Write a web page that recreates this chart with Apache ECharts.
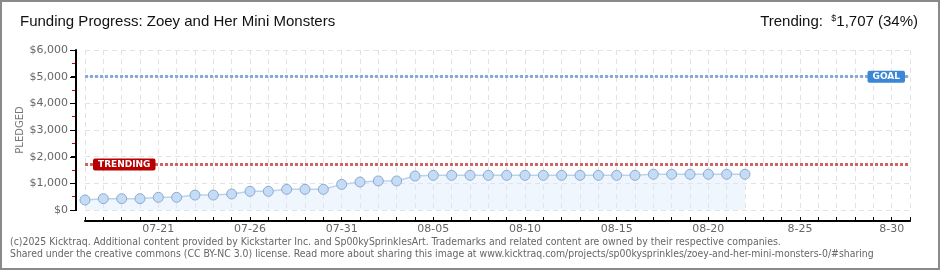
<!DOCTYPE html>
<html><head><meta charset="utf-8">
<script src="https://cdn.jsdelivr.net/npm/echarts@6/dist/echarts.min.js"></script>
<style>html,body{margin:0;padding:0;background:#fff}#c{width:940px;height:270px}</style>
</head><body><div id="c"></div>
<script>
const categories = ["07-17","07-18","07-19","07-20","07-21","07-22","07-23","07-24","07-25","07-26","07-27","07-28","07-29","07-30","07-31",
"08-01","08-02","08-03","08-04","08-05","08-06","08-07","08-08","08-09","08-10","08-11","08-12","08-13","08-14","08-15","08-16","08-17","08-18","08-19","08-20","08-21","08-22","08-23","08-24","08-25","08-26","08-27","08-28","08-29","08-30","08-31"];
const tickLabels = ["07-21","07-26","07-31","08-05","08-10","08-15","08-20","8-25","8-30"];
const pledged = [375,425,425,425,475,475,560,560,600,700,700,775,775,775,960,1050,1090,1090,1275,
1300,1300,1300,1300,1300,1300,1300,1300,1300,1300,1300,1300,
1340,1340,1340,1340,1340,1340];
const goal = 5000;
const trending = 1707;
const yTicks = [0,1000,2000,3000,4000,5000,6000];
const yMinorTicks = [500,1500,2500,3500,4500,5500];

const chart = echarts.init(document.getElementById('c'), null, {renderer:'canvas'});
const lblFont = '"DejaVu Sans", Verdana, sans-serif';
const titleFont = 'sans-serif';
const footFont = 'Tahoma,"DejaVu Sans Condensed","DejaVu Sans",sans-serif';
const yMin = yTicks[0], yMax = yTicks[yTicks.length-1];
const Y_OFFSET = 9, GRID_LEFT = 85, GRID_TOP = 50, GRID_BOTTOM = 60, H = 270;
chart.setOption({
  animation:false,
  grid:{left:GRID_LEFT,right:30,top:GRID_TOP,bottom:GRID_BOTTOM},
  xAxis:{
    type:'category', data:categories, boundaryGap:false, offset:11,
    axisLine:{onZero:false,lineStyle:{color:'#000',width:2}},
    axisTick:{show:true,interval:0,inside:true,length:4,lineStyle:{color:'#000',width:1}},
    axisLabel:{interval:0,margin:3,color:'#666',fontSize:11,fontFamily:lblFont,
      formatter:(v,i)=> (i%5===4 ? tickLabels[(i-4)/5] : '')},
    splitLine:{show:true,interval:0,lineStyle:{color:'#e2e2e2',type:[5,4]}}
  },
  yAxis:[{
    type:'value', min:yMin, max:yMax, interval:1000, offset:Y_OFFSET, position:'left',
    name:'PLEDGED', nameLocation:'middle', nameRotate:90, nameGap:51, nameMoveOverlap:false,
    nameTextStyle:{color:'#777',fontSize:10,fontFamily:lblFont},
    axisLine:{show:true,onZero:false,lineStyle:{color:'#000',width:2}},
    axisTick:{show:true,length:5,lineStyle:{color:'#000',width:1}},
    axisLabel:{margin:8,color:'#666',fontSize:11,fontFamily:lblFont,
      formatter:v=>'$'+v.toLocaleString('en-US')},
    splitLine:{show:true,lineStyle:{color:'#e2e2e2',type:[5,4]}}
  },{
    type:'value', min:yMin, max:yMax, interval:500, offset:Y_OFFSET, position:'left',
    axisLine:{show:false}, axisLabel:{show:false}, splitLine:{show:false},
    axisTick:{show:true,length:4,customValues:yMinorTicks,lineStyle:{color:'#d00',width:1}}
  }],
  series:[{
    type:'line', data:pledged, symbol:'circle', symbolSize:10, yAxisIndex:0,
    lineStyle:{color:'#b9d3ef',width:1.5},
    itemStyle:{color:'#c5dcf6',borderColor:'#8ea9cc',borderWidth:1},
    areaStyle:{color:'rgba(220,234,250,0.6)'},
    markLine:{
      silent:true, symbol:'none',
      data:[
        {yAxis:goal, lineStyle:{color:'#86abdb',width:3,type:[3,2]},
         label:{show:true,position:'insideEnd',distance:5,formatter:'GOAL',color:'#fff',fontSize:9,fontWeight:'bold',
           fontFamily:lblFont,backgroundColor:'#3b87d6',padding:[2,5,1,5],borderRadius:2}},
        {yAxis:trending, lineStyle:{color:'#d06464',width:3,type:[3,2]},
         label:{show:true,position:'insideStart',distance:8,formatter:'TRENDING',color:'#fff',fontSize:9,fontWeight:'bold',
           fontFamily:lblFont,backgroundColor:'#b80000',padding:[2,5,1,5],borderRadius:2}}
      ]
    }
  }]
});

// y-axis line and major ticks drawn explicitly (fallback to grid geometry if conversion fails)
const gTop = GRID_TOP, gBot = H - GRID_BOTTOM;
function yPix(v){
  let p = NaN;
  try { p = chart.convertToPixel({yAxisIndex:0}, v); } catch(e) {}
  if (Array.isArray(p)) p = p[1];
  if (!isFinite(p)) p = gBot - (v - yMin) / (yMax - yMin) * (gBot - gTop);
  return p;
}
let x0 = NaN;
try { x0 = chart.convertToPixel({xAxisIndex:0}, 0); } catch(e) {}
if (Array.isArray(x0)) x0 = x0[0];
if (!isFinite(x0)) x0 = GRID_LEFT;
const axX = x0 - Y_OFFSET;
const graphics = [
  {type:'rect',shape:{x:1,y:1,width:938,height:268},style:{fill:'none',stroke:'#8a8a8a',lineWidth:2},silent:true,z:100},
  {type:'text',left:20,top:14,style:{text:'Funding Progress: Zoey and Her Mini Monsters',fill:'#111',fontSize:15,fontFamily:titleFont}},
  {type:'text',right:22,top:14,style:{rich:{a:{fontSize:15,fill:'#111',fontFamily:titleFont},
    s:{fontSize:9,fill:'#111',verticalAlign:'top',padding:[0,0,6,0],fontFamily:titleFont}},
    text:'{a|Trending:  }{s|$}{a|1,707 (34%)}'}},
  {type:'text',left:10,top:237,style:{text:'(c)2025 Kicktraq. Additional content provided by Kickstarter Inc. and Sp00kySprinklesArt. Trademarks and related content are owned by their respective companies.',
    fill:'#666',fontSize:10.4,fontFamily:footFont}},
  {type:'text',left:10,top:249,style:{text:'Shared under the creative commons (CC BY-NC 3.0) license. Read more about sharing this image at www.kicktraq.com/projects/sp00kysprinkles/zoey-and-her-mini-monsters-0/#sharing',
    fill:'#666',fontSize:10.4,fontFamily:footFont}},
  {type:'rect',silent:true,z:100,shape:{x:axX-1,y:yPix(yMax),width:2,height:yPix(yMin)-yPix(yMax)+1},style:{fill:'#000'}}
];
yTicks.forEach(v=>{
  const py = Math.round(yPix(v));
  graphics.push({type:'rect',silent:true,z:100,shape:{x:axX-6,y:py,width:5,height:1},style:{fill:'#000'}});
});
chart.setOption({graphic: graphics});
</script></body></html>
